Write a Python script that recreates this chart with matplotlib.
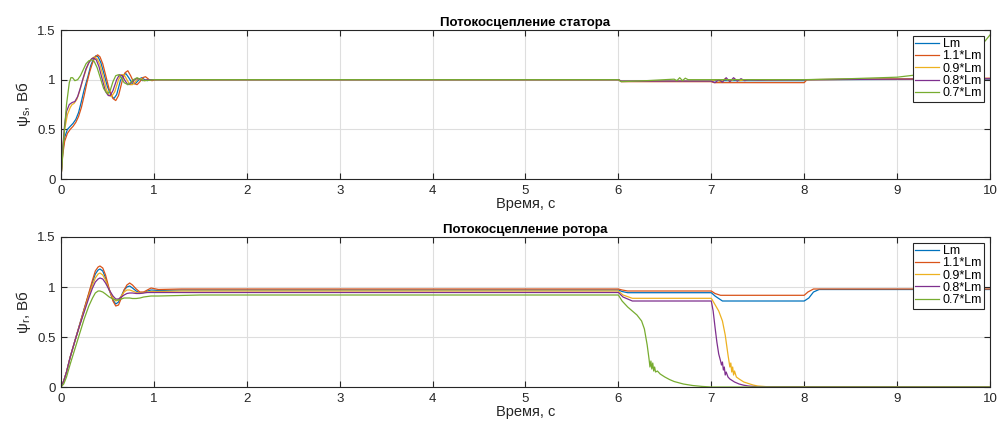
import numpy as np
import matplotlib.pyplot as plt

plt.rcParams['font.family'] = ['Liberation Sans', 'DejaVu Sans']

labels = ['Lm', '1.1*Lm', '0.9*Lm', '0.8*Lm', '0.7*Lm']
colors = ['#0072BD', '#D95319', '#EDB120', '#7E2F8E', '#77AC30']

# stator flux (start-up part + rest)
ts_lm = [0, 0.02, 0.04, 0.07, 0.1, 0.13, 0.16, 0.19, 0.22, 0.25, 0.29, 0.32, 0.35, 0.375, 0.4, 0.43, 0.46, 0.5,
         0.54, 0.57, 0.6, 0.64, 0.67, 0.7, 0.73, 0.77, 0.8, 0.82, 0.85, 0.87, 0.9, 0.93, 0.96, 1.0] + \
        [6.0, 6.03, 7.0, 7.03, 8.0, 8.03, 10.0]
vs_lm = [0, 0.28, 0.42, 0.5, 0.53, 0.56, 0.6, 0.67, 0.78, 0.9, 1.03, 1.14, 1.21, 1.24, 1.23, 1.17, 1.07, 0.93,
         0.84, 0.81, 0.85, 0.99, 1.05, 1.06, 1.02, 0.96, 0.96, 0.98, 1.01, 1.02, 1.0, 0.99, 1.0, 1.0] + \
        [1.0, 0.985, 0.985, 0.99, 0.99, 1.0, 1.005]

ts_11 = [0, 0.02, 0.04, 0.07, 0.1, 0.13, 0.16, 0.19, 0.22, 0.25, 0.28, 0.31, 0.34, 0.37, 0.395, 0.42, 0.45, 0.48,
         0.52, 0.56, 0.59, 0.62, 0.66, 0.69, 0.72, 0.75, 0.79, 0.82, 0.85, 0.88, 0.91, 0.95, 0.98, 1.02] + \
        [6.0, 6.03, 7.0, 7.03, 8.0, 8.03, 10.0]
vs_11 = [0, 0.25, 0.38, 0.46, 0.5, 0.53, 0.57, 0.63, 0.72, 0.84, 0.97, 1.08, 1.17, 1.23, 1.25, 1.23, 1.16, 1.05,
         0.9, 0.81, 0.79, 0.84, 0.99, 1.07, 1.09, 1.04, 0.96, 0.95, 0.98, 1.02, 1.03, 1.0, 0.99, 1.0] + \
        [1.0, 0.98, 0.98, 0.97, 0.97, 1.0, 1.015]

ts_09 = [0, 0.02, 0.04, 0.07, 0.1, 0.12, 0.14, 0.17, 0.2, 0.23, 0.27, 0.3, 0.33, 0.36, 0.39, 0.42, 0.45, 0.49,
         0.52, 0.545, 0.58, 0.62, 0.65, 0.68, 0.71, 0.74, 0.77, 0.8, 0.83, 0.86, 0.9, 0.95, 1.0] + \
        [6.0, 6.03, 7.0, 7.05, 7.1, 7.15, 7.2, 7.25, 7.3, 7.4, 7.6, 8.0, 10.0]
vs_09 = [0, 0.3, 0.5, 0.65, 0.72, 0.75, 0.76, 0.8, 0.88, 0.98, 1.1, 1.17, 1.21, 1.23, 1.21, 1.15, 1.05, 0.9,
         0.84, 0.83, 0.88, 1.0, 1.05, 1.05, 1.0, 0.95, 0.95, 0.98, 1.01, 1.01, 0.99, 1.0, 1.0] + \
        [1.0, 0.985, 0.985, 1.0, 0.98, 1.01, 0.985, 1.005, 0.99, 1.0, 0.995, 1.0, 1.01]

ts_08 = [0, 0.02, 0.04, 0.06, 0.09, 0.12, 0.15, 0.18, 0.21, 0.24, 0.27, 0.3, 0.33, 0.35, 0.38, 0.41, 0.44, 0.48,
         0.51, 0.53, 0.56, 0.6, 0.63, 0.66, 0.69, 0.72, 0.75, 0.78, 0.81, 0.84, 0.88, 0.93, 1.0] + \
        [6.0, 6.03, 7.0, 7.04, 7.08, 7.12, 7.16, 7.2, 7.24, 7.28, 7.32, 7.36, 7.4, 7.5, 8.0, 10.0]
vs_08 = [0, 0.32, 0.55, 0.68, 0.75, 0.77, 0.78, 0.83, 0.92, 1.02, 1.11, 1.17, 1.21, 1.22, 1.2, 1.13, 1.02, 0.88,
         0.84, 0.84, 0.89, 1.0, 1.05, 1.04, 0.99, 0.95, 0.96, 0.99, 1.01, 1.01, 0.99, 1.0, 1.0] + \
        [1.0, 0.985, 0.985, 0.97, 1.0, 0.975, 1.02, 0.98, 1.02, 0.985, 1.01, 0.99, 1.0, 0.995, 1.0, 1.01]

ts_07 = [0, 0.03, 0.06, 0.09, 0.107, 0.125, 0.15, 0.18, 0.21, 0.24, 0.27, 0.3, 0.33, 0.36, 0.39, 0.42, 0.46, 0.5,
         0.53, 0.56, 0.59, 0.62, 0.65, 0.68, 0.72, 0.75, 0.78, 0.82, 0.86, 0.9, 1.0] + \
        [6.0, 6.03, 6.3, 6.5, 6.6, 6.63, 6.66, 6.69, 6.72, 6.75, 7.0, 8.0, 8.5, 9.0, 9.5, 9.8, 9.93, 10.0]
vs_07 = [0, 0.4, 0.75, 0.97, 1.02, 1.02, 0.99, 1.0, 1.04, 1.1, 1.16, 1.19, 1.2, 1.18, 1.12, 1.03, 0.91, 0.86,
         0.89, 0.98, 1.04, 1.05, 1.02, 0.97, 0.95, 0.97, 1.0, 1.02, 1.0, 0.99, 1.0] + \
        [1.0, 0.98, 0.99, 1.0, 1.005, 0.99, 1.02, 0.99, 1.015, 1.0, 1.0, 1.0, 1.01, 1.025, 1.08, 1.2, 1.37, 1.45]

# rotor flux (start-up part + rest)
tr_up = [0, 0.03, 0.06, 0.1, 0.15, 0.2, 0.25, 0.3, 0.34, 0.37, 0.4, 0.42, 0.45, 0.48, 0.52, 0.56, 0.59, 0.62,
         0.65, 0.68, 0.71, 0.74, 0.77, 0.81, 0.85, 0.89, 0.93, 0.97, 1.05]

tr_lm = tr_up + [1.3, 6.0, 6.04, 6.1, 7.0, 7.04, 7.12, 8.0, 8.05, 8.1, 8.16, 10.0]
vr_lm = [0, 0.06, 0.15, 0.3, 0.46, 0.62, 0.78, 0.93, 1.05, 1.13, 1.17, 1.18, 1.16, 1.09, 0.97, 0.87, 0.83, 0.85,
         0.91, 0.97, 1.0, 1.01, 0.99, 0.96, 0.94, 0.945, 0.96, 0.97, 0.965] + \
        [0.97, 0.97, 0.955, 0.943, 0.943, 0.91, 0.86, 0.86, 0.89, 0.95, 0.975, 0.975]

tr_11 = tr_up + [1.3, 6.0, 6.04, 6.1, 7.0, 7.04, 7.1, 8.0, 8.04, 8.1, 10.0]
vr_11 = [0, 0.06, 0.15, 0.3, 0.46, 0.62, 0.78, 0.94, 1.07, 1.16, 1.2, 1.21, 1.19, 1.12, 0.98, 0.86, 0.81, 0.82,
         0.89, 0.97, 1.02, 1.04, 1.02, 0.98, 0.95, 0.95, 0.97, 0.99, 0.975] + \
        [0.98, 0.98, 0.97, 0.96, 0.96, 0.935, 0.917, 0.917, 0.95, 0.98, 0.98]

tr_09 = tr_up + [1.3, 6.0, 6.05, 6.15, 7.0, 7.03, 7.08, 7.12, 7.15, 7.18, 7.2, 7.21, 7.22, 7.23, 7.24, 7.25, 7.27,
                 7.3, 7.35, 7.4, 7.45, 7.5, 7.6, 10.0]
vr_09 = [0, 0.06, 0.15, 0.3, 0.46, 0.61, 0.76, 0.91, 1.02, 1.09, 1.13, 1.14, 1.12, 1.07, 0.97, 0.89, 0.86, 0.87,
         0.91, 0.95, 0.97, 0.97, 0.96, 0.945, 0.94, 0.945, 0.95, 0.955, 0.955] + \
        [0.96, 0.96, 0.92, 0.887, 0.887, 0.84, 0.76, 0.66, 0.52, 0.32, 0.2, 0.24, 0.15, 0.2, 0.12, 0.16, 0.1,
         0.08, 0.05, 0.035, 0.02, 0.01, 0.003, 0.0]

tr_08 = tr_up + [1.3, 6.0, 6.05, 6.15, 7.0, 7.02, 7.04, 7.06, 7.08, 7.1, 7.11, 7.12, 7.13, 7.14, 7.15, 7.16, 7.18,
                 7.2, 7.25, 7.3, 7.35, 7.4, 7.5, 10.0]
vr_08 = [0, 0.06, 0.15, 0.3, 0.46, 0.61, 0.75, 0.89, 0.99, 1.05, 1.08, 1.09, 1.08, 1.04, 0.97, 0.91, 0.88, 0.88,
         0.9, 0.92, 0.935, 0.94, 0.94, 0.935, 0.935, 0.94, 0.945, 0.945, 0.945] + \
        [0.945, 0.945, 0.9, 0.86, 0.86, 0.76, 0.6, 0.45, 0.33, 0.26, 0.22, 0.25, 0.17, 0.2, 0.12, 0.15, 0.1,
         0.08, 0.05, 0.03, 0.018, 0.01, 0.002, 0.0]

tr_07 = tr_up + [1.5, 6.0, 6.04, 6.1, 6.2, 6.25, 6.28, 6.31, 6.33, 6.34, 6.35, 6.36, 6.37, 6.38, 6.39, 6.4, 6.42,
                 6.45, 6.5, 6.55, 6.6, 6.7, 6.8, 6.9, 7.0, 10.0]
vr_07 = [0, 0.03, 0.1, 0.23, 0.38, 0.53, 0.68, 0.81, 0.89, 0.94, 0.96, 0.96, 0.95, 0.93, 0.9, 0.88, 0.87, 0.87,
         0.88, 0.89, 0.89, 0.89, 0.885, 0.885, 0.89, 0.9, 0.905, 0.91, 0.91] + \
        [0.92, 0.92, 0.86, 0.8, 0.72, 0.66, 0.58, 0.42, 0.28, 0.2, 0.26, 0.18, 0.24, 0.16, 0.2, 0.15, 0.16,
         0.13, 0.1, 0.075, 0.055, 0.03, 0.015, 0.006, 0.0, 0.0]

stator = [(ts_lm, vs_lm), (ts_11, vs_11), (ts_09, vs_09), (ts_08, vs_08), (ts_07, vs_07)]
rotor = [(tr_lm, vr_lm), (tr_11, vr_11), (tr_09, vr_09), (tr_08, vr_08), (tr_07, vr_07)]

fig = plt.figure(figsize=(9.99, 4.22), dpi=100)
ax1 = fig.add_axes([0.061, 0.5758, 0.930, 0.3531])
ax2 = fig.add_axes([0.061, 0.0829, 0.930, 0.3555])


def style_axis(ax, title, ylab, data):
    for (t, v), c, lab in zip(data, colors, labels):
        ax.plot(t, v, color=c, lw=0.9, label=lab)
    ax.set_xlim(0, 10)
    ax.set_ylim(0, 1.5)
    ax.set_xticks(np.arange(0, 11, 1))
    ax.set_yticks([0, 0.5, 1, 1.5])
    ax.set_yticklabels(['0', '0.5', '1', '1.5'])
    ax.grid(True, color='#dedede', lw=0.8)
    ax.set_axisbelow(True)
    ax.tick_params(direction='in', length=4, top=True, right=True, labelsize=9.5,
                   colors='#262626', pad=4)
    for sp in ax.spines.values():
        sp.set_color('#262626')
        sp.set_linewidth(0.8)
    ax.set_title(title, fontsize=9.5, fontweight='bold', pad=3)
    ax.set_xlabel('Время, с', fontsize=10.5, color='#262626', labelpad=0)
    ax.set_ylabel(ylab, fontsize=11, color='#262626', labelpad=3)
    leg = ax.legend(loc='upper right', fontsize=9, fancybox=False, framealpha=1,
                    edgecolor='#262626', handlelength=1.9, handletextpad=0.3,
                    labelspacing=0.02, borderpad=0.2, borderaxespad=0.45)
    leg.get_frame().set_linewidth(0.8)


style_axis(ax1, 'Потокосцепление статора', 'ψ$_\\mathregular{s}$, Вб', stator)
style_axis(ax2, 'Потокосцепление ротора', 'ψ$_\\mathregular{r}$, Вб', rotor)

fig.savefig('out.png', dpi=100)
